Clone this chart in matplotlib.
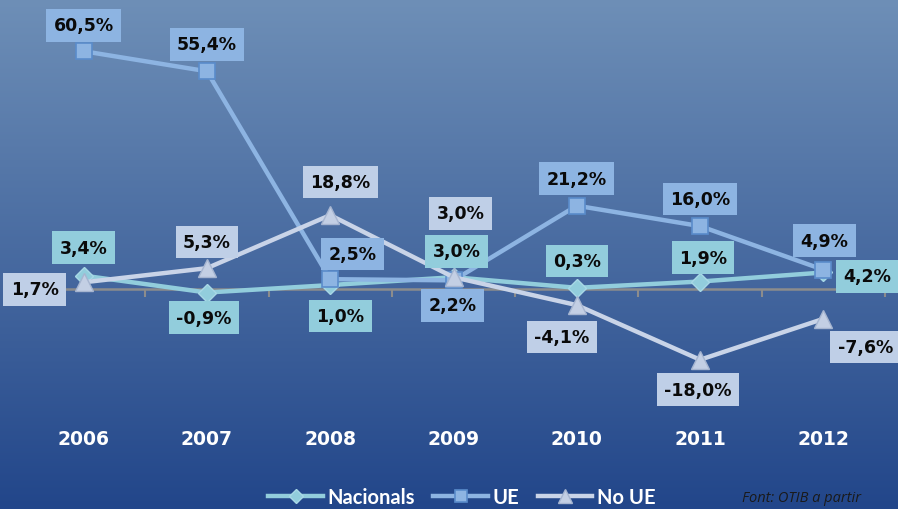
import numpy as np
import matplotlib
matplotlib.use("Agg")
import matplotlib.pyplot as plt
from matplotlib.transforms import blended_transform_factory

years = ["2006", "2007", "2008", "2009", "2010", "2011", "2012"]
nacionals = [3.4, -0.9, 1.0, 3.0, 0.3, 1.9, 4.2]
ue = [60.5, 55.4, 2.5, 2.2, 21.2, 16.0, 4.9]
no_ue = [1.7, 5.3, 18.8, 3.0, -4.1, -18.0, -7.6]
series_names = ["Nacionals", "UE", "No UE"]
source_text = "Font: OTIB a partir"

# label offsets in pixels (dx, dy; dy positive = up)
off_nac = [(0, 28), (-3, -25), (10, -31), (3, 26), (0, 27), (3, 24), (44, -4)]
off_ue = [(0, 26), (0, 27), (22, 25), (-1, -25), (0, 27), (0, 27), (1, 29)]
off_noue = [(-49, -7), (0, 26), (10, 33), (7, 64), (-15, -32), (-2, -30), (42, -28)]

W, H = 898, 510
fig = plt.figure(figsize=(W / 100, H / 100), dpi=100)

# gradient background
bg = fig.add_axes([0, 0, 1, 1], zorder=-10)
top = np.array([110, 143, 183]) / 255
bot = np.array([34, 70, 138]) / 255
t = np.linspace(0, 1, 256)[:, None]
grad = (top[None, :] * (1 - t) + bot[None, :] * t)[:, None, :]
grad = np.repeat(grad, 2, axis=1)
bg.imshow(grad, aspect="auto", extent=[0, 1, 0, 1], origin="upper")
bg.axis("off")

ax_top_px, ax_bot_px = 10, 420
ax_left_px, ax_right_px = 22, 885
ax = fig.add_axes([ax_left_px / W, 1 - ax_bot_px / H,
                   (ax_right_px - ax_left_px) / W, (ax_bot_px - ax_top_px) / H])
ax.patch.set_alpha(0)

x = np.arange(len(years))
ppu = 3.93
ax.set_xlim(-0.5, len(years) - 0.5)
ax.set_ylim(-(ax_bot_px - 290) / ppu, (290 - ax_top_px) / ppu)

c_nac, c_ue, c_noue = "#92CDDC", "#8DB4E2", "#C9D4E8"
box_nac, box_ue, box_noue = "#92CDDC", "#8DB4E2", "#BFCFE7"

l1, = ax.plot(x, nacionals, color=c_nac, lw=3.2, marker="D", ms=9,
              mfc="#92CDDC", mec="#A8D8E6", mew=1, zorder=3, label=series_names[0])
l2, = ax.plot(x, ue, color=c_ue, lw=3.2, marker="s", ms=11,
              mfc="#8DB4E2", mec="#5A8CCB", mew=1.2, zorder=4, label=series_names[1])
l3, = ax.plot(x, no_ue, color=c_noue, lw=3.2, marker="^", ms=13,
              mfc="#C3CFE4", mec="#A6B5D0", mew=1, zorder=5, label=series_names[2])

def fmt(v):
    return f"{v:.1f}".replace(".", ",") + "%"

def labels(vals, offs, fc):
    for i, (v, (dx, dy)) in enumerate(zip(vals, offs)):
        ax.annotate(fmt(v), xy=(i, v), xytext=(dx, dy), textcoords="offset pixels",
                    ha="center", va="center", fontsize=12.5, fontweight="bold",
                    color="#0a0a0a", family="DejaVu Sans", zorder=10,
                    bbox=dict(boxstyle="square,pad=0.42", fc=fc, ec="none"),
                    annotation_clip=False)

labels(nacionals, off_nac, box_nac)
labels(ue, off_ue, box_ue)
labels(no_ue, off_noue, box_noue)

# axis at zero
for s in ["top", "right", "left"]:
    ax.spines[s].set_visible(False)
ax.spines["bottom"].set_position(("data", 0))
ax.spines["bottom"].set_color("#8C8C8C")
ax.spines["bottom"].set_linewidth(1.8)
ax.spines["bottom"].set_zorder(2)
ax.set_yticks([])
ax.set_xticks(np.arange(len(years) + 1) - 0.5)
ax.set_xticklabels([])
ax.tick_params(axis="x", direction="out", length=6, width=1.5, color="#8C8C8C")

trans = blended_transform_factory(ax.transData, ax.transAxes)
for i, yl in enumerate(years):
    ax.text(i, -20 / (ax_bot_px - ax_top_px), yl, transform=trans, ha="center", va="center",
            fontsize=13.5, fontweight="bold", color="white", family="DejaVu Sans")

leg = fig.legend(handles=[l1, l2, l3], loc="center", bbox_to_anchor=(462 / W, 1 - 498 / H),
                 ncol=3, frameon=False, handlelength=2.7, columnspacing=0.9,
                 handletextpad=0.25, markerscale=0.75,
                 prop={"family": "Lato", "weight": "bold", "size": 14.5})
for txt in leg.get_texts():
    txt.set_color("white")

fig.text(742 / W, 1 - 491 / H, source_text, ha="left", va="top", fontsize=10.5,
         style="italic", color="#1a1a1a", family="Open Sans")

fig.savefig("out.png", dpi=100)
